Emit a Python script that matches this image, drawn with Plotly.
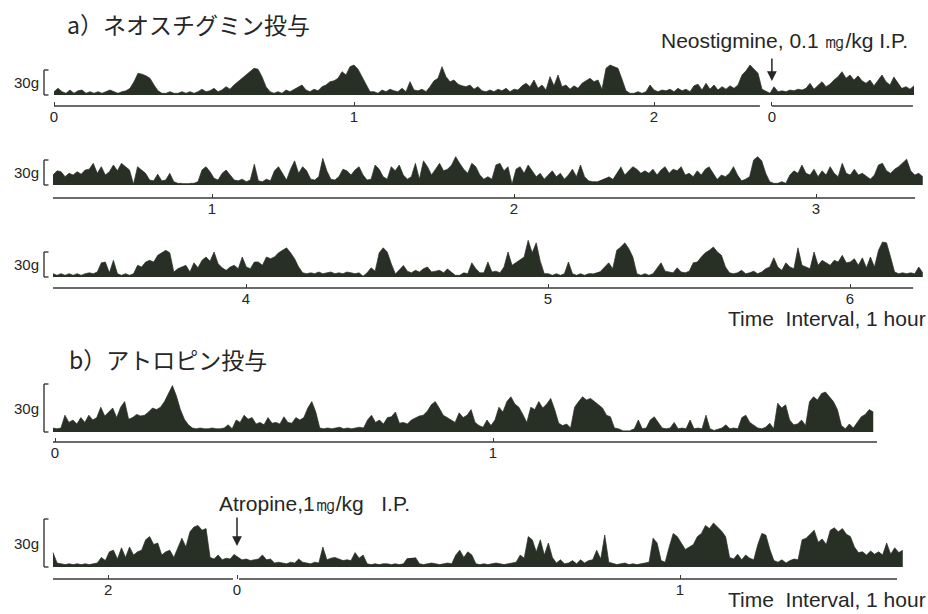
import plotly.graph_objects as go

W, H = 928, 614

# ------------------------------------------------------------------
# DATA  (contraction amplitude in grams, one sample every DT hours;
#        time in hours relative to the drug injection, None = pen gap)
# ------------------------------------------------------------------
DT_A = 1 / 75
DT_B = 1 / 110

# a) Neostigmine
A1_START = -2.393
A1 = [4, 8, 4, 2, 6, 2, 5, 6, 2, 4, 2, 4, 2, 4, 6, 4, 2, 4, 5, 8,
      16, 26, 25, 23, 20, 12,
      5, 2, 2, 4, 2, 2, 4, 2, 4, 2, 4, 7, 4, 5, 8, 4, 6, 10, 7, 12,
      16, 20, 24, 29, 32, 31, 22, 10,
      4, 2, 4, 2, 6, 4, 7, 10, 12, 6, 4, 7, 5, 10, 12, 16,
      17, 20, 28, 24, 34, 36, 31, 22, 12,
      4, 4, 2, 6, 4, 7, 5, 4, 8, 4, 16, 6, 5, 7, 4, 10, 17, 20, 34, 22, 16, 18, 13, 11, 10, 12,
      7, 10, 5, 4, 6, 4, 7, 5, 8, 4, 7, 6,
      11, 14, 10, 18, 8, 12, 6, 22, 11, 24,
      10, 12, 7, 11, 8, 14,
      17, 20, 16, 18, 7,
      32, 36, 34, 32, 19,
      5, 2, 2, 4, 2, 4, 12,
      6, 4, 6, 5, 7, 4, 8, 5, 7, 4, 11,
      13, 6, 14, 7, 12, 6, 10, 7, 11, 8, 12,
      24, 29, 36, 31, 26, 7, 4, 2,
      10, 4, 5, 4, 6, 5, 7, 6, 8,
      14, 7, 12, 16, 10, 13, 18,
      22, 28, 20, 24, 18, 23, 17,
      14, 18, 11, 17, 24, 16, 12, 22,
      None, 8, 10, 7, 11]

A2_START = 0.4735
A2 = [12, 17, 16, 10, 14, 12, 16, 13, 18, 19, 26, 14, 22, 12, 16, 24, 17, 26, 22, 18,
      1,
      22, 18, 14, 6, 5, 13, 5, 6, 14, 4, 2, 2,
      None, 2, 2, 4,
      18, 22, 16, 8,
      6, 14, 18, 12, 6,
      5, 7, 4, 6, 25,
      5, 4, 7, 5,
      17, 22, 14, 6,
      19, 29, 14, 22,
      17, 7, 6, 10,
      32, 17, 7,
      6, 10, 19, 17, 12,
      18, 22, 12, 6, 7,
      24, 19, 10, 7, 22,
      17, 24, 12, 7,
      10, 26, 7, 29,
      22, 12, 19, 26,
      17, 19, 24, 34, 26,
      19, 14, 26, 22, 12,
      7, 10, 7,
      24, 26, 17, 22,
      1,
      19, 22, 14, 24, 17, 10,
      14, 7, 12, 17, 10, 14,
      7, 12, 19, 10, 24, 10,
      5, 4, 4,
      None, None,
      10, 7,
      None,
      22, 12, 17, 22, 19, 14,
      17, 14, 19, 12, 18, 22,
      14, 19, 17, 22, 12,
      14, 10, 17, 12, 19, 22,
      None, 7,
      12, 10, 14, 22, 12, 5,
      7, 10,
      30, 34, 29, 14,
      4, 2, 2, 4, 2,
      12, 17, 14, 24,
      14, 12, 19, 10,
      17, 12, 22, 14, 10, 26,
      14, 12, 19, 12, 14, 10, 7, 12, 24, 26,
      17, 14, 19, 22,
      26, 31, 17, 12, 14, 10]

A3_START = 3.361
A3 = [4, 2, 4, 2, 4, 2, 4, 2, 4, 5, 4, 6,
      17, 18, 5, 20,
      4, 2, 4, 2, 4,
      14, 12, 18, 20,
      18, 26, 29, 32, 29,
      6, 10, 12, 14, 6, 17, 11,
      20, 24, 19, 30, 16,
      11, 8, 12, 14, 10,
      24, 12, 10, 18,
      18, 14, 24, 22,
      24, 29, 32, 35, 29, 22, 12,
      5, 4, 5, 4, 6, 4, 5, 6, 4, 5, 4, 6, 5, 4, 5,
      1,
      5, 11, 7,
      29, 35, 30, 16,
      4, None,
      14, 7, 5, 8, 6, 10, 12, 6, 7, 8, 5, 10,
      None, 2, 2,
      5, 4, 17, 10, 5,
      5, 18, 6, 7, 5,
      12, 30, 14,
      17, 20,
      24, 44, 29, 41,
      19, 4, 4, 2, 4, 2, 4, 18,
      4, 2, 4, 2, 4, 4,
      None,
      7, 12, 17, 10,
      32, 36, 41, 34, 24,
      4, 2, 4, 2, 4,
      10, 17, 7,
      6, 5, 11, 6, 5, 7, 17,
      18, 24, 29, 32, 36, 30, 26, 12,
      5, 4, 5, 8, 4, 5, 7, 4, 6,
      10, 12, 23, 12, 8, 17, 12, 10, 35,
      14, 12, 10, 30, 14,
      20, 17, 14, 20, 18, 26,
      17, 18, 22, 14, 23,
      11, 24, 12,
      32, 42, 41, 24,
      6, 4, 5, 4, 5, 4, 12, 5]

# b) Atropine
B1_START = -2.2956
B1 = [2.5, 2, 2.5, 10.5,
      6, 7.5, 5, 9, 6, 10.5, 7.5,
      9, 15.5, 10, 12.5,
      15, 9, 15.5,
      19, 8, 9,
      11, 10,
      10.5, 12.5, 15, 14,
      15.5, 19,
      24, 29, 22.5,
      14, 8, 4.5,
      2.5, 2, 2.5, 2, 2, 2.5, 2, 2, 2.5, 4.5, 2,
      7.5, 6, 10.5, 8, 9,
      5, 6, 4.5, 9, 5.5, 6, 5, 9.5, 6, 5.5, 9,
      7.5, 9,
      15, 19, 12.5,
      2.5, 2, 2.5, 2, 2.5, 3, 2, 2.5, 2, 2.5, 3, 2.5,
      7.5, 10.5, 6,
      7.5, 5, 9, 9.5, 12.5,
      5.5, 6, 5, 7.5, 9,
      10, 10.5, 13, 17, 19, 15,
      10.5, 9, 7.5, 6, 12, 9, 10.5,
      14, 6,
      4, 3, 7.5, 4, 7.5,
      15.5, 12.5, 19, 22, 17.5, 15.5, 11,
      6, 15.5, 14, 19, 15, 17.5, 21, 14,
      5.5, 4, 5, 2.5,
      15.5, 19, 22, 20, 21, 19, 17, 15, 10.5, 9.5,
      2.5, 2, 1,
      None,
      1, 2, 7.5, 2, 2.5,
      7.5, 9.5, 6, 2.5,
      2, 2.5, 6, 2, 2.5, 2, 7.5,
      2, 2.5, 2, 10.5, 2, 1,
      2, 2.5, 4.5, 2, 2.5, 2,
      9, 10.5, 6, 4.5,
      2.5, 2, 3, 5.5, 2,
      18, 15, 17, 7.5, 4.5,
      5, 7.5, 4,
      19, 22, 20, 24, 25, 22, 19, 14,
      4, 2, 5, 2.5, 6,
      9.5, 11, 14, 12.5]

B2_START = -0.4153
B2 = [9, 2.5,
      2, 1.5, 2, 1.5, 2, 1.5, 2, 1.5, 2, 2.5,
      6, 4, 9.5,
      10.5, 5, 12, 6, 12.5, 7.5, 9.5, 10.5,
      17, 19, 14, 15,
      7.5, 9.5, 10.5, 6, 12,
      18, 12.5,
      22, 25, 26, 23, 24,
      6, 5, 7.5, 4.5, 5.5, 5, 8,
      None,
      4.5, 5, 4, 4.5,
      5, 7.5, 4.5, 5,
      2.5, 3, 2.5, 2, 3, 2.5, 5, 3, 2.5, 2, 3, 2.5,
      12.5, 4.5, 5.5, 6, 5, 4, 4.5, 4,
      9, 5.5, 7.5,
      2, 1.5, 2, 1.5, 2, 2, 1.5, 2, 1.5, 2, 5.5,
      None,
      6, 2, 1.5, 2, 2.5, 2, 1.5, 2, 2.5, 2, 7.5,
      10.5, 6, 9.5, 7.5,
      2, 1.5, 2, 1.5, 2, 2.5, 2, 1.5, 2, 2.5, 3,
      7.5, 5.5,
      19, 17, 9.5, 17, 7.5, 15, 6,
      2.5, 4.5, 2, 2.5, 4, 2, 4.5, 2.5, 4,
      4.5, 10.5, 5, 20,
      3, 2, 1.5, 2, 2.5, 1.5, 2, 1.5, 2, 2.5, 3,
      18, 15, 4,
      3,
      12.5, 21, 19, 15, 11,
      12.5, 14,
      19, 21, 26, 24, 27.5, 25, 22.5, 19,
      6, 5, 8, 4.5, 7.5, 5.5, 4.5,
      14, 21, 20, 11,
      4, 3, 4.5, 2.5, 4, 5, 4.5,
      17, 18, 20.5, 23,
      15.5, 17.5, 14,
      23, 24.5, 22, 24, 20.5, 19, 12.5,
      9, 9.5, 7.5, 10, 8,
      9.5, 7.5, 15, 8, 12, 9, 10.5]

# tick positions (hours relative to injection) and their printed labels
A1_TICKS, A1_LABELS = [-2.393, -1.393, -0.393, 0.0], ["0", "1", "2", "0"]
A2_TICKS, A2_LABELS = [1, 2, 3], ["1", "2", "3"]
A3_TICKS, A3_LABELS = [4, 5, 6], ["4", "5", "6"]
B1_TICKS, B1_LABELS = [-2.291, -1.291], ["0", "1"]
B2_TICKS, B2_LABELS = [-0.291, 0.0, 1.0], ["2", "0", "1"]

# time-axis line segments (hours)
A1_AXIS = [(-2.393, -0.04), (0.0, 0.47)]
A2_AXIS = [(0.4735, 3.328)]
A3_AXIS = [(3.361, 6.209)]
B1_AXIS = [(-2.2956, -0.4143)]
B2_AXIS = [(-0.4153, -0.009), (0.0045, 1.49)]

SCALE_BAR_G = 30

# ------------------------------------------------------------------
# STYLE / LAYOUT
# ------------------------------------------------------------------
INK = "#283026"
AXC = "#3a3a3a"
TXT = "#262626"
LAT = "Liberation Sans, Arial, sans-serif"
JP = "Noto Sans CJK JP, sans-serif"

ROWS = [
    dict(d=A1, t0=A1_START, dt=DT_A, tref=-2.393, xref=54, s=300, base=95, axis=106, top=52, k=25 / 30,
         tv=A1_TICKS, tl=A1_LABELS, segs=A1_AXIS),
    dict(d=A2, t0=A2_START, dt=DT_A, tref=2, xref=514, s=302, base=185, axis=198, top=142, k=25 / 30,
         tv=A2_TICKS, tl=A2_LABELS, segs=A2_AXIS),
    dict(d=A3, t0=A3_START, dt=DT_A, tref=5, xref=548, s=302, base=277, axis=288, top=232, k=25 / 30,
         tv=A3_TICKS, tl=A3_LABELS, segs=A3_AXIS),
    dict(d=B1, t0=B1_START, dt=DT_B, tref=-2.291, xref=55, s=438, base=432, axis=442, top=375, k=48 / 30,
         tv=B1_TICKS, tl=B1_LABELS, segs=B1_AXIS),
    dict(d=B2, t0=B2_START, dt=DT_B, tref=0.0, xref=237, s=443, base=567, axis=579, top=515, k=48 / 30,
         tv=B2_TICKS, tl=B2_LABELS, segs=B2_AXIS),
]

fig = go.Figure()
shapes, annotations = [], []
layout = {}

for i, r in enumerate(ROWS):
    n = i + 1
    xs = f"x{n}" if n > 1 else "x"
    ys = f"y{n}" if n > 1 else "y"
    xk = f"xaxis{n}" if n > 1 else "xaxis"
    yk = f"yaxis{n}" if n > 1 else "yaxis"
    times = [r["t0"] + j * r["dt"] for j in range(len(r["d"]))]
    fig.add_trace(go.Scatter(
        x=times, y=r["d"], xaxis=xs, yaxis=ys, mode="lines",
        fill="tozeroy", fillcolor=INK, line=dict(color=INK, width=0.7),
        connectgaps=False, hoverinfo="skip", showlegend=False))

    layout[xk] = dict(
        domain=[0, 1],
        range=[r["tref"] - r["xref"] / r["s"], r["tref"] + (W - r["xref"]) / r["s"]],
        anchor=ys, showgrid=False, zeroline=False, showline=False,
        ticks="inside", ticklen=4, tickwidth=1.2, tickcolor=AXC,
        tickvals=r["tv"], ticktext=r["tl"],
        tickfont=dict(family=LAT, size=15, color=TXT), fixedrange=True)
    layout[yk] = dict(
        domain=[1 - r["axis"] / H, 1 - r["top"] / H],
        range=[-(r["axis"] - r["base"]) / r["k"], (r["base"] - r["top"]) / r["k"]],
        anchor=xs, visible=False, fixedrange=True)

    for a, b in r["segs"]:
        shapes.append(dict(type="line", xref=xs, yref=f"{ys} domain", x0=a, x1=b, y0=0, y1=0,
                           line=dict(color=AXC, width=1.3)))
    bx0, bx1 = 44 / W, 48.5 / W
    shapes.append(dict(type="line", xref="paper", yref=ys, x0=bx0, x1=bx0, y0=0, y1=SCALE_BAR_G,
                       line=dict(color=AXC, width=1.4)))
    shapes.append(dict(type="line", xref="paper", yref=ys, x0=bx0, x1=bx1, y0=SCALE_BAR_G, y1=SCALE_BAR_G,
                       line=dict(color=AXC, width=1.4)))
    shapes.append(dict(type="line", xref="paper", yref=ys, x0=bx0, x1=bx1, y0=0, y1=0,
                       line=dict(color=AXC, width=1.4)))
    annotations.append(dict(text=f"{SCALE_BAR_G}g", xref="paper", yref=ys, x=41 / W,
                            y=SCALE_BAR_G / 2, xanchor="right", yanchor="middle", showarrow=False,
                            font=dict(family=LAT, size=15, color=TXT)))


def ptxt(text, x, y, size, xanchor="left", family=LAT):
    return dict(text=text, xref="paper", yref="paper", x=x / W, y=1 - y / H,
                xanchor=xanchor, yanchor="middle", showarrow=False, borderpad=0,
                font=dict(family=family, size=size, color=TXT))


annotations += [
    ptxt("a）ネオスチグミン投与", 66, 24, 23, family=JP),
    ptxt("b）アトロピン投与", 68, 359, 23, family=JP),
    ptxt("Neostigmine, 0.1 \u338e/kg I.P.", 909, 40, 21, xanchor="right"),
    ptxt("Atropine,1\u338e/kg\u00a0\u00a0 I.P.", 218, 503, 21),
    ptxt("Time\u00a0 Interval, 1 hour", 927, 318, 21, xanchor="right"),
    ptxt("Time\u00a0 Interval, 1 hour", 927, 599, 21, xanchor="right"),
    dict(text="", xref="x", yref="paper", x=0.0, y=1 - 81 / H, ax=0, ay=-24,
         showarrow=True, arrowhead=2, arrowsize=1.3, arrowwidth=1.5, arrowcolor=TXT),
    dict(text="", xref="x5", yref="paper", x=0.0, y=1 - 546 / H, ax=0, ay=-30,
         showarrow=True, arrowhead=2, arrowsize=1.3, arrowwidth=1.5, arrowcolor=TXT),
]

fig.update_layout(
    width=W, height=H, margin=dict(l=0, r=0, t=0, b=0),
    paper_bgcolor="white", plot_bgcolor="rgba(0,0,0,0)",
    showlegend=False, shapes=shapes, annotations=annotations, **layout)

fig.write_html("out.html")
